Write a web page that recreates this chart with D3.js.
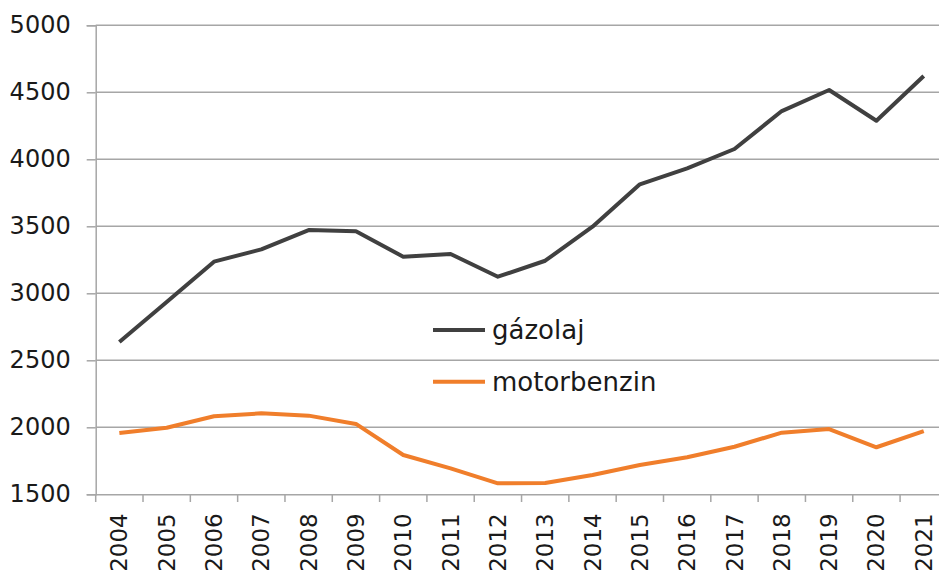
<!DOCTYPE html>
<html><head><meta charset="utf-8">
<script src="https://cdn.jsdelivr.net/npm/d3@7"></script>
<style>html,body{margin:0;padding:0;background:#fff;overflow:hidden}</style>
</head><body>
<svg id="c" width="939" height="573"></svg>
<script>
const years = ["2004","2005","2006","2007","2008","2009","2010","2011","2012","2013","2014","2015","2016","2017","2018","2019","2020","2021"];
const gazolaj = [2636,2935,3236,3328,3472,3463,3273,3293,3124,3243,3497,3813,3933,4077,4360,4517,4288,4622];
const motorbenzin = [1957,1997,2082,2104,2087,2025,1793,1694,1582,1585,1644,1719,1776,1855,1960,1987,1851,1972];
const yTicks = [1500,2000,2500,3000,3500,4000,4500,5000];
const seriesNames = ["gázolaj","motorbenzin"];
const seriesColors = ["#404040","#F07E2B"];

const svg = d3.select("#c");
const font = "'DejaVu Sans', sans-serif";
const fs = 24;
const x = d3.scaleBand().domain(years).range([95.7, 947.4]);
const y = d3.scaleLinear().domain([1500,5000]).range([494.3, 25.3]);

// gridlines
svg.append("g").selectAll("line").data(yTicks.slice(1)).join("line")
  .attr("x1",95.7).attr("x2",939).attr("y1",d=>y(d)).attr("y2",d=>y(d))
  .attr("stroke","#a6a6a6").attr("stroke-width",1.5);

// y axis
const ya = svg.append("g").attr("transform","translate(95.7,0)")
  .call(d3.axisLeft(y).tickValues(yTicks).tickSize(9).tickPadding(16).tickFormat(d3.format("d")));
ya.select(".domain").attr("stroke","#a6a6a6").attr("stroke-width",1.5);
ya.selectAll(".tick line").attr("stroke","#a6a6a6").attr("stroke-width",1.5);
ya.selectAll("text").attr("font-family",font).attr("font-size",fs).attr("fill","#1a1a1a");

// x axis
const xa = svg.append("g").attr("transform","translate(0,494.3)")
  .call(d3.axisBottom(x).tickSize(0).tickSizeOuter(0));
xa.select(".domain").attr("stroke","#a6a6a6").attr("stroke-width",1.5);
xa.selectAll(".tick line").remove();
// category boundary tick marks
svg.append("g").selectAll("line").data(years).join("line")
  .attr("x1",d=>x(d)).attr("x2",d=>x(d)).attr("y1",494.3).attr("y2",502)
  .attr("stroke","#a6a6a6").attr("stroke-width",1.5);
xa.selectAll("text")
  .attr("font-family",font).attr("font-size",23).attr("fill","#1a1a1a")
  .attr("transform","rotate(-90)").attr("text-anchor","end")
  .attr("x",-19).attr("y",0).attr("dy","0.35em");

const line = d3.line().x((d,i)=>x(years[i])+x.bandwidth()/2).y(d=>y(d));
[gazolaj, motorbenzin].forEach((s,i)=>{
  svg.append("path").datum(s).attr("d",line).attr("fill","none")
    .attr("stroke",seriesColors[i]).attr("stroke-width",4).attr("stroke-linejoin","round");
});

// legend
const legY = [330, 381.7];
seriesNames.forEach((n,i)=>{
  svg.append("line").attr("x1",433).attr("x2",485).attr("y1",legY[i]).attr("y2",legY[i])
    .attr("stroke",seriesColors[i]).attr("stroke-width",4);
  svg.append("text").attr("x",492).attr("y",legY[i]).attr("dy","0.35em")
    .attr("font-family",font).attr("font-size",26).attr("fill","#1a1a1a").text(n);
});
</script>
</body></html>
